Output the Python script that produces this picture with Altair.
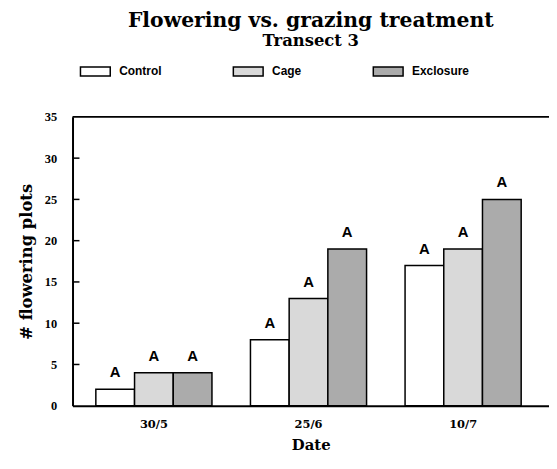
import altair as alt
import pandas as pd

dates = ["30/5", "25/6", "10/7"]
treatments = ["Control", "Cage", "Exclosure"]
control = [2, 8, 17]
cage = [4, 13, 19]
exclosure = [4, 19, 25]
letters_control = ["A", "A", "A"]
letters_cage = ["A", "A", "A"]
letters_exclosure = ["A", "A", "A"]
y_ticks = [0, 5, 10, 15, 20, 25, 30, 35]
inner_ticks = [5, 10, 15, 20, 25, 30]
top_value = [35]

rows = []
for t, vals, lets in zip(treatments, [control, cage, exclosure],
                         [letters_control, letters_cage, letters_exclosure]):
    for d, v, l in zip(dates, vals, lets):
        rows.append({"Date": d, "Treatment": t, "Flowering": v, "Letter": l})
df = pd.DataFrame(rows)

serif = "Liberation Serif"
wide_serif = "DejaVu Serif"
sans = "Liberation Sans"
yscale = alt.Scale(domain=[0, 35], nice=False)
yaxis = alt.Axis(title="# flowering plots", values=y_ticks, grid=False,
                 ticks=False, domainColor="black", domainWidth=2,
                 labelFont=serif, labelFontWeight="bold", labelFontSize=12.5,
                 labelColor="black", labelPadding=16,
                 titleFont=wide_serif, titleFontWeight="bold", titleFontSize=16.5,
                 titleColor="black", titlePadding=10)

x_enc = alt.X("Date:N", sort=dates,
              scale=alt.Scale(paddingInner=0.249, paddingOuter=0.1654, align=0.456),
              axis=alt.Axis(title="Date", labelAngle=0, ticks=False,
                            domainColor="black", domainWidth=2,
                            labelFont=wide_serif, labelFontWeight="bold", labelFontSize=11.5,
                            labelColor="black", labelPadding=13,
                            titleFont=wide_serif, titleFontWeight="bold", titleFontSize=15,
                            titleColor="black", titlePadding=8))
xoff = alt.XOffset("Treatment:N", sort=treatments,
                   scale=alt.Scale(domain=treatments, paddingInner=0, paddingOuter=0))

base = alt.Chart(df)

bars = base.mark_bar(stroke="black", strokeWidth=1.5).encode(
    x=x_enc,
    xOffset=xoff,
    y=alt.Y("Flowering:Q", scale=yscale, axis=yaxis),
    fill=alt.Fill("Treatment:N", sort=treatments,
                  scale=alt.Scale(domain=treatments,
                                  range=["#ffffff", "#d9d9d9", "#ababab"]),
                  legend=alt.Legend(title=None, orient="none", legendX=7, legendY=-62,
                                    direction="horizontal",
                                    symbolType="M-1,-0.3H1V0.3H-1Z", symbolSize=900,
                                    symbolStrokeColor="black", symbolStrokeWidth=1.5,
                                    symbolOpacity=1,
                                    labelFont=sans, labelFontWeight="bold",
                                    labelFontSize=12, labelColor="black",
                                    labelOffset=8, columnPadding=69)),
)

letters = base.mark_text(font=sans, fontWeight="bold", fontSize=15,
                         baseline="alphabetic", dy=-12, color="black").encode(
    x=alt.X("Date:N", sort=dates),
    xOffset=xoff,
    y=alt.Y("Flowering:Q", scale=yscale, axis=yaxis),
    text="Letter:N",
)

ticks = alt.Chart(pd.DataFrame({"Flowering": inner_ticks})).mark_rule(
    color="black", strokeWidth=1.5).encode(
    y=alt.Y("Flowering:Q", scale=yscale, axis=yaxis),
    x=alt.value(0), x2=alt.value(7),
)

top = alt.Chart(pd.DataFrame({"Flowering": top_value})).mark_rule(
    color="black", strokeWidth=2).encode(
    y=alt.Y("Flowering:Q", scale=yscale, axis=yaxis),
)

chart = alt.layer(bars, letters, ticks, top).properties(
    width=480, height=291,
    autosize=alt.AutoSizeParams(type="none"),
    padding={"left": 65, "top": 108, "right": 0, "bottom": 55},
    title=alt.Title("Flowering vs. grazing treatment", subtitle="Transect 3",
                    font=wide_serif, fontSize=20.5, fontWeight="bold", color="black",
                    subtitleFont=wide_serif, subtitleFontSize=16.5, subtitleFontWeight="bold",
                    subtitleColor="black", subtitlePadding=2,
                    anchor="middle", offset=6),
).configure_view(stroke=None)

chart.save("out.html", embed_options={"renderer": "svg", "actions": False})
